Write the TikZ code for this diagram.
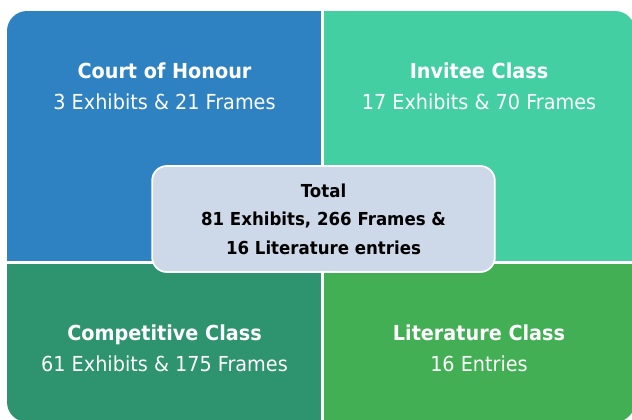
\documentclass[tikz,border=0pt]{standalone}
\usepackage{fontspec}
\setmainfont{DejaVu Sans}[FakeStretch=0.93]
\usepackage{tikz}
\usetikzlibrary{
    positioning
}
\definecolor{honourblue}{HTML}{2F82C2}
\definecolor{inviteegreen}{HTML}{43CFA1}
\definecolor{competitivegreen}{HTML}{2E936F}
\definecolor{literaturegreen}{HTML}{43AF54}
\definecolor{totalgrey}{HTML}{CDD8E8}
\tikzset{
    % Quadrant heading:
    head text/.style = {
        text = white,
        font = \bfseries\fontsize{15.5}{18}\selectfont,
        anchor = base,
        inner sep = 0pt
    },
    % Exhibit and frame counts:
    count text/.style = {
        head text,
        font = \fontsize{15.5}{18}\selectfont
    },
    % Divider between the quadrants:
    divider/.style = {
        draw = white,
        line width = 1.6pt
    },
    % Box in the middle:
    total box/.style = {
        rectangle,
        rounded corners = 11pt,
        fill = totalgrey,
        draw = white,
        line width = 1.3pt,
        minimum width = 257pt,
        minimum height = 79.5pt,
        align = center,
        font = \bfseries\fontsize{13.4}{21.5}\selectfont
    }
}

\begin{document}
\begin{tikzpicture}[x=0.75pt, y=-0.75pt]
    \useasboundingbox (0, 0) rectangle (632, 419);
    \begin{scope}
        \clip [rounded corners=15pt] (7, 11) rectangle (635, 422);
        \fill [honourblue] (7, 11) rectangle (322.5, 262.5);
        \fill [inviteegreen] (322.5, 11) rectangle (635, 262.5);
        \fill [competitivegreen] (7, 262.5) rectangle (322.5, 422);
        \fill [literaturegreen] (322.5, 262.5) rectangle (635, 422);
    \end{scope}
    \coordinate (top) at (322.5, 11);
    \coordinate (bottom) at (322.5, 422);
    \coordinate (left) at (7, 262.5);
    \coordinate (right) at (635, 262.5);
    \path [divider] (top) -- (bottom);
    \path [divider] (left) -- (right);
    % Upper half.
    \node [head text] (honour) at (164.5, 78) {Court of Honour};
    \node [count text] (honour count) at (164.5, 109.5) {3 Exhibits \& 21 Frames};
    \node [head text] (invitee) at (479, 78) {Invitee Class};
    \node [count text] (invitee count) at (479, 109.5) {17 Exhibits \& 70 Frames};
    % Lower half.
    \node [head text] (competitive) at (164.5, 340) {Competitive Class};
    \node [count text] (competitive count) at (164.5, 371.5) {61 Exhibits \& 175 Frames};
    \node [head text] (literature) at (479, 340) {Literature Class};
    \node [count text] (literature count) at (479, 371.5) {16 Entries};
    \node [total box] (total) at (323.5, 219)
        {Total\\81 Exhibits, 266 Frames \&\\16 Literature entries};
\end{tikzpicture}
\end{document}
